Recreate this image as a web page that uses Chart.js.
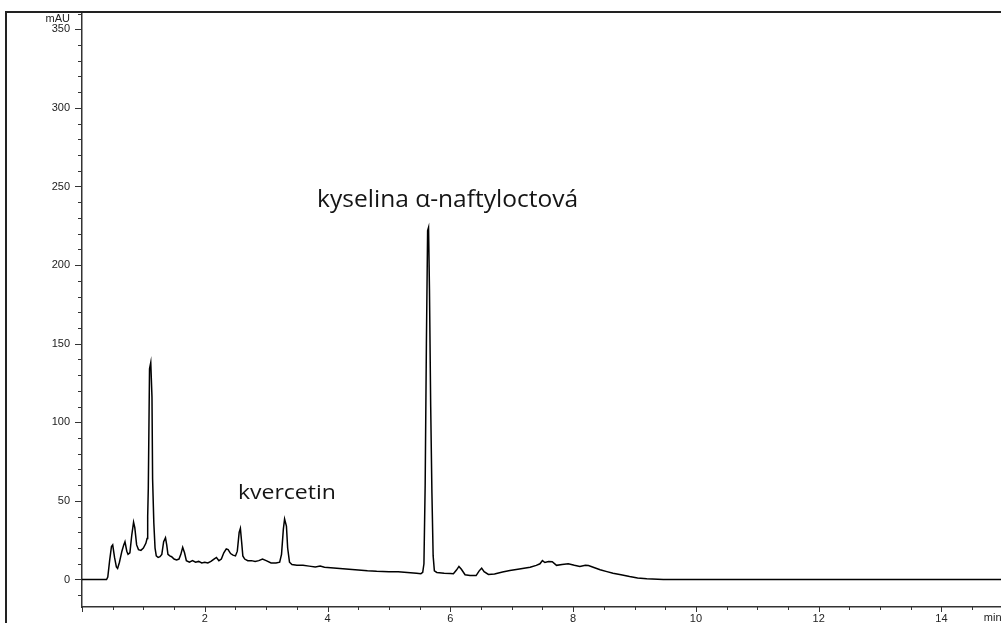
<!DOCTYPE html>
<html>
<head>
<meta charset="utf-8">
<script src="https://cdn.jsdelivr.net/npm/chart.js@4/dist/chart.umd.min.js"></script>
<style>
  html, body { margin: 0; padding: 0; background: #fff; }
  #wrap { width: 1001px; height: 623px; }
</style>
</head>
<body>
<div id="wrap"><canvas id="chrom"></canvas></div>
<script>
// retention time (min) and detector signal (mAU)
const retentionTimes = [
  0.00, 0.40, 0.42, 0.45, 0.48, 0.50, 0.53, 0.56, 0.58, 0.61, 0.65, 0.68, 0.70, 0.73, 0.75, 0.78,
  0.81, 0.84, 0.86, 0.89, 0.92, 0.96, 1.00, 1.04, 1.06, 1.07, 1.08, 1.10, 1.12, 1.14, 1.15, 1.17,
  1.19, 1.21, 1.24, 1.27, 1.30, 1.33, 1.36, 1.38, 1.40, 1.43, 1.46, 1.50, 1.54, 1.58, 1.61, 1.64,
  1.67, 1.70, 1.75, 1.80, 1.85, 1.90, 1.95, 2.00, 2.05, 2.10, 2.15, 2.19, 2.23, 2.27, 2.31, 2.35,
  2.38, 2.42, 2.46, 2.50, 2.53, 2.56, 2.58, 2.60, 2.62, 2.65, 2.70, 2.76, 2.82, 2.88, 2.94, 3.00,
  3.08, 3.16, 3.22, 3.25, 3.28, 3.30, 3.33, 3.35, 3.38, 3.42, 3.50, 3.60, 3.70, 3.80, 3.88, 3.95,
  4.05, 4.20, 4.35, 4.50, 4.65, 4.80, 5.00, 5.15, 5.30, 5.45, 5.52, 5.55, 5.57, 5.59, 5.61, 5.63,
  5.645, 5.66, 5.68, 5.70, 5.72, 5.74, 5.78, 5.90, 6.00, 6.05, 6.10, 6.14, 6.18, 6.24, 6.32, 6.42,
  6.47, 6.51, 6.55, 6.62, 6.72, 6.85, 6.97, 7.10, 7.20, 7.30, 7.40, 7.46, 7.50, 7.54, 7.60, 7.66,
  7.73, 7.82, 7.92, 8.02, 8.11, 8.20, 8.25, 8.35, 8.44, 8.55, 8.65, 8.78, 8.92, 9.05, 9.20, 9.47,
  15.00
];
const signal = [
  0, 0, 1.5, 12, 21, 22, 14, 8, 7, 11, 18, 22, 24, 18, 16, 17,
  28, 36.5, 33, 22, 19, 18.5, 20, 23, 26, 40, 58, 134, 138, 116, 64, 36,
  20, 15, 14, 14.5, 16, 24, 26.5, 22, 16, 15, 14.5, 13, 12.5, 13, 16, 20.5,
  17, 12, 11, 12, 11, 11.5, 10.5, 11, 10.5, 11.5, 13, 14, 12, 13, 17, 19.5,
  19, 16.5, 15.5, 15, 18, 30, 32.5, 24, 15, 13, 12, 12, 11.5, 12, 13, 12,
  10.5, 10.5, 11, 16, 32, 38.5, 34, 20, 11, 9.5, 9, 9, 8.5, 8, 8.5, 7.8,
  7.5, 7, 6.5, 6, 5.5, 5.2, 5, 5, 4.5, 4, 3.7, 4.5, 10, 60, 150, 222,
  224, 185, 110, 55, 15, 5.5, 4.5, 4, 3.8, 3.6, 6, 8.3, 6.5, 3, 2.5, 2.5,
  5.5, 7.2, 5, 3.2, 3.5, 4.8, 5.7, 6.5, 7.2, 7.8, 9, 10, 12, 10.8, 11.5, 11.3,
  9, 9.5, 10, 9, 8.3, 9, 8.9, 7.5, 6.2, 5, 4, 3, 1.9, 1, 0.4, 0,
  0
];

// axis ranges and labels
const timeRange = [0, 14.97];
const signalRange = [-17.5, 361];
const xLabelEvery = 2;
const yLabelEvery = 50;

// peak annotations: text, time and mAU at the text baseline
const peakNames = ['kyselina α-naftyloctová', 'kvercetin'];
const peakTextTimes = [3.83, 2.54];
const peakTextLevels = [237, 51.5];

var points = retentionTimes.map((t, i) => ({ x: t, y: signal[i] }));

function isMultiple(v, step) {
  return Math.abs(v / step - Math.round(v / step)) < 1e-6;
}

const tickFont = '"Liberation Sans", Arial, sans-serif';

// ticks, frame and texts drawn on top
const decorations = {
  id: 'decorations',
  afterDraw(chart) {
    const ctx = chart.ctx;
    const xs = chart.scales.x;
    const ys = chart.scales.y;
    const left = chart.chartArea.left;
    const bottom = chart.chartArea.bottom;

    ctx.save();
    ctx.strokeStyle = '#333';
    ctx.lineWidth = 1;

    ys.ticks.forEach(t => {
      var py = Math.round(ys.getPixelForValue(t.value)) + 0.5;
      var len = isMultiple(t.value, yLabelEvery) ? 7 : 4;
      ctx.beginPath();
      ctx.moveTo(left - len, py);
      ctx.lineTo(left, py);
      ctx.stroke();
    });

    xs.ticks.forEach(t => {
      var px = Math.round(xs.getPixelForValue(t.value)) + 0.5;
      var len = isMultiple(t.value, xLabelEvery) ? 5 : 3;
      ctx.beginPath();
      ctx.moveTo(px, bottom);
      ctx.lineTo(px, bottom + len);
      ctx.stroke();
    });

    // outer frame
    ctx.strokeStyle = '#222';
    ctx.lineWidth = 2;
    ctx.beginPath();
    ctx.moveTo(6, 623);
    ctx.lineTo(6, 12);
    ctx.lineTo(1001, 12);
    ctx.stroke();

    // unit labels
    ctx.fillStyle = '#222';
    ctx.font = '11px ' + tickFont;
    ctx.textBaseline = 'middle';
    ctx.textAlign = 'right';
    ctx.fillText('mAU', left - 12, 19);
    ctx.textAlign = 'left';
    ctx.fillText('min', xs.getPixelForValue(14.69), 618);

    // peak names, stretched to the width seen in the original
    const widths = [261, 98];
    const sizes = [23, 20];
    ctx.fillStyle = '#151515';
    ctx.textBaseline = 'alphabetic';
    peakNames.forEach((name, i) => {
      ctx.font = sizes[i] + 'px "Open Sans", sans-serif';
      var w = ctx.measureText(name).width;
      var px = xs.getPixelForValue(peakTextTimes[i]);
      var py = ys.getPixelForValue(peakTextLevels[i]);
      ctx.save();
      ctx.translate(px, py);
      ctx.scale(widths[i] / w, 1);
      ctx.fillText(name, 0, 0);
      ctx.restore();
    });

    ctx.restore();
  }
};

var ctx = document.getElementById('chrom');

new Chart(ctx, {
  type: 'line',
  data: {
    datasets: [{
      data: points,
      borderColor: '#000',
      borderWidth: 1.5,
      pointRadius: 0,
      tension: 0,
      fill: false
    }]
  },
  options: {
    responsive: true,
    maintainAspectRatio: false,
    animation: false,
    events: [],
    layout: { padding: { top: 12, left: 0, right: 0, bottom: 0 } },
    plugins: {
      legend: { display: false },
      tooltip: { enabled: false }
    },
    scales: {
      x: {
        type: 'linear',
        min: timeRange[0],
        max: timeRange[1],
        afterFit: s => { s.height = 16; },
        border: { display: true, color: '#333', width: 1.5 },
        grid: { drawOnChartArea: false, drawTicks: true, tickLength: 4, tickColor: 'transparent' },
        ticks: {
          stepSize: 0.5,
          includeBounds: false,
          autoSkip: false,
          maxRotation: 0,
          padding: 1,
          color: '#222',
          font: { family: tickFont, size: 11 },
          callback: v => (v > 0 && isMultiple(v, xLabelEvery)) ? String(v) : ''
        }
      },
      y: {
        min: signalRange[0],
        max: signalRange[1],
        afterFit: s => { s.width = 82; },
        border: { display: true, color: '#333', width: 1.5 },
        grid: { drawOnChartArea: false, drawTicks: true, tickLength: 7, tickColor: 'transparent' },
        ticks: {
          stepSize: 10,
          includeBounds: false,
          autoSkip: false,
          padding: 5,
          color: '#222',
          font: { family: tickFont, size: 11 },
          callback: v => isMultiple(v, yLabelEvery) ? String(v) : ''
        }
      }
    }
  },
  plugins: [decorations]
});
</script>
</body>
</html>
